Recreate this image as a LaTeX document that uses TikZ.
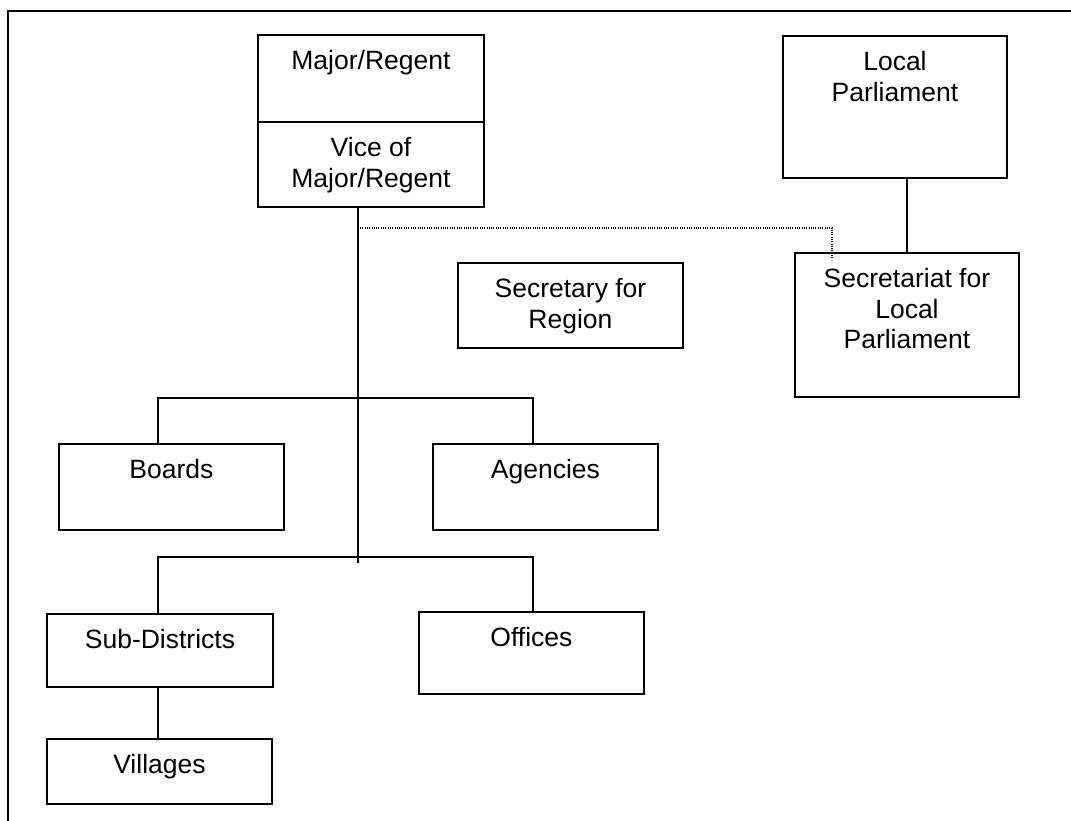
\documentclass[tikz,border=0pt]{standalone}
\usepackage{fontspec}
\setmainfont{Liberation Sans}
\usetikzlibrary{positioning}
\tikzset{
  orgbox/.style={draw, line width=1.9pt, inner sep=0pt, anchor=north west},
  boxtext/.style={inner sep=0pt, align=center, font=\fontsize{26.5pt}{30.5pt}\selectfont},
  link/.style={line width=1.6pt},
  dotlink/.style={line width=1.1pt, dash pattern=on 1pt off 1.3pt}
}
% name, left, top, width, height, text
\newcommand{\orgunit}[6]{
  \node[orgbox, minimum width=#4, minimum height=#5] (#1) at (#2,#3) {};
  \node[boxtext, below=16.5pt of #1.north] (#1-t) {#6};
}

\begin{document}
\begin{tikzpicture}[x=1pt, y=-1pt]
\useasboundingbox (0,0) rectangle (1071,821);
\draw[line width=1.9pt] (8,821) -- (8,11) -- (1071,11);

\orgunit{major}{257}{34}{226}{87}{Major/Regent}
\orgunit{vice}{257}{121}{226}{85}{Vice of\\Major/Regent}
\orgunit{secreg}{457}{262}{225}{85}{Secretary for\\Region}
\orgunit{parl}{782}{35}{224}{142}{Local\\Parliament}
\orgunit{secparl}{794}{252}{224}{144}{Secretariat for\\Local\\Parliament}
\orgunit{boards}{58}{443}{225}{86}{Boards}
\orgunit{agencies}{432}{443}{225}{86}{Agencies}
\orgunit{subdist}{46}{613}{226}{73}{Sub-Districts}
\orgunit{offices}{418}{611}{225}{82}{Offices}
\orgunit{villages}{46}{738}{225}{65}{Villages}

\coordinate (trunk) at (358,563);
\coordinate (busA) at (158,398);
\coordinate (busB) at (533,398);
\coordinate (busC) at (158,557);
\coordinate (busD) at (533,557);
\coordinate (dotbend) at (832,228);

\draw[link] (vice.south -| trunk) -- (trunk);
\draw[link] (boards.north -| busA) -- (busA) -- (busB) -- (agencies.north -| busB);
\draw[link] (subdist.north -| busC) -- (busC) -- (busD) -- (offices.north -| busD);
\draw[link] (subdist.south -| busC) -- (villages.north -| busC);
\draw[link] (parl.south -| secparl.north) -- (secparl.north);
\draw[dotlink] ([xshift=2pt]trunk |- dotbend) -- (dotbend) -- ([yshift=-7pt]secparl.north -| dotbend);
\end{tikzpicture}
\end{document}
